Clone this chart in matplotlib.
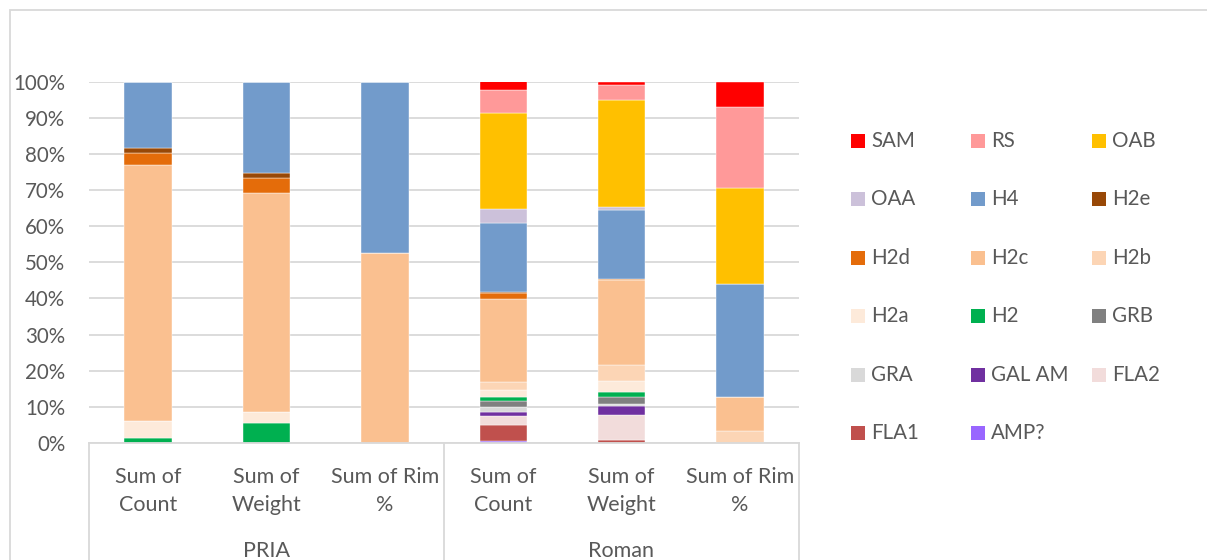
import numpy as np
import matplotlib
matplotlib.use("Agg")
from matplotlib import pyplot as plt
from matplotlib.patches import Rectangle
from matplotlib.ticker import PercentFormatter
import matplotlib.transforms as mtransforms

plt.rcParams['font.family'] = ['Lato', 'DejaVu Sans']

# categories (two levels)
groups = ['PRIA', 'Roman']
measures = ['Sum of\nCount', 'Sum of\nWeight', 'Sum of Rim\n%']

# percentages per type: PRIA Count, Weight, Rim %, Roman Count, Weight, Rim %
amp = [0, 0, 0, 0.5, 0, 0]
fla1 = [0, 0, 0, 4.6, 0.9, 0]
fla2 = [0, 0, 0, 2.3, 6.9, 0]
gal_am = [0, 0, 0, 1.2, 2.4, 0]
gra = [0, 0, 0, 1.3, 0.5, 0]
grb = [0, 0, 0, 1.7, 2.0, 0]
h2 = [1.5, 5.4, 0, 1.1, 1.3, 0]
h2a = [4.6, 3.2, 0, 1.9, 3.2, 0]
h2b = [0, 0, 0, 2.3, 4.5, 3.2]
h2c = [70.9, 60.5, 52.6, 22.9, 23.3, 9.4]
h2d = [3.4, 4.2, 0, 1.8, 0.4, 0]
h2e = [1.2, 1.5, 0, 0.2, 0.1, 0]
h4 = [18.4, 25.2, 47.4, 19.2, 19.1, 31.4]
oaa = [0, 0, 0, 3.7, 0.6, 0]
oab = [0, 0, 0, 26.5, 29.8, 26.7]
rs = [0, 0, 0, 6.4, 4.2, 22.3]
sam = [0, 0, 0, 2.5, 0.7, 7.0]

# bottom to top stacking order
series = [
    ('AMP?', amp, '#9966FF'),
    ('FLA1', fla1, '#C0504D'),
    ('FLA2', fla2, '#F2DCDB'),
    ('GAL AM', gal_am, '#7030A0'),
    ('GRA', gra, '#D9D9D9'),
    ('GRB', grb, '#808080'),
    ('H2', h2, '#00B050'),
    ('H2a', h2a, '#FDEADA'),
    ('H2b', h2b, '#FCD5B5'),
    ('H2c', h2c, '#FAC090'),
    ('H2d', h2d, '#E46C0A'),
    ('H2e', h2e, '#984807'),
    ('H4', h4, '#729BCB'),
    ('OAA', oaa, '#CCC1DA'),
    ('OAB', oab, '#FFC000'),
    ('RS', rs, '#FF9999'),
    ('SAM', sam, '#FF0000'),
]

txt = '#595959'
grid_c = '#D9D9D9'
fs = 14.8
fs_cat = 15.5

W, H = 1207, 560
fig = plt.figure(figsize=(W / 100, H / 100), dpi=100)
ax = fig.add_axes([89 / W, 1 - 443 / H, 710 / W, 361.3 / H])

x = np.arange(len(groups) * len(measures))
bottom = np.zeros(len(x))
for name, vals, col in series:
    v = np.array(vals, dtype=float)
    ax.bar(x, v, width=0.4, bottom=bottom, color=col, edgecolor='white',
           linewidth=0.3)
    bottom += v

ax.set_xlim(-0.5, len(x) - 0.5)
ax.set_ylim(0, 100)
ax.set_yticks(np.arange(0, 101, 10))
ax.yaxis.set_major_formatter(PercentFormatter(100, decimals=0))
ax.grid(axis='y', color=grid_c, linewidth=1.3)
ax.set_axisbelow(True)
for s in ['top', 'right', 'left']:
    ax.spines[s].set_visible(False)
ax.spines['bottom'].set_color(grid_c)
ax.spines['bottom'].set_linewidth(1.3)

ax.tick_params(axis='y', length=0, pad=17, labelsize=fs, labelcolor=txt)
ax.set_xticks(x)
ax.set_xticklabels(measures * len(groups), linespacing=1.5)
ax.tick_params(axis='x', length=0, pad=17, labelsize=fs_cat, labelcolor=txt)

# group labels and separators of the category axis
trans = mtransforms.blended_transform_factory(ax.transData, ax.transAxes)
for i, g in enumerate(groups):
    ax.text(i * 3 + 1, -0.298, g, transform=trans, ha='center', va='center',
            fontsize=fs_cat, color=txt)
for xb in [-0.5, 2.5, 5.5]:
    ax.plot([xb, xb], [0, -0.5], transform=trans, color=grid_c,
            linewidth=1.3, clip_on=False)

# legend laid out in rows of three
legend_order = list(reversed(series))
col_x = [851, 971, 1092]
for k, (name, vals, col) in enumerate(legend_order):
    r, c = divmod(k, 3)
    yc = 140.7 + 58.5 * r
    fig.add_artist(Rectangle((col_x[c] / W, 1 - (yc + 7) / H), 14 / W, 14 / H,
                             transform=fig.transFigure, facecolor=col,
                             edgecolor='none'))
    fig.text((col_x[c] + 20) / W, 1 - yc / H, name, ha='left', va='center',
             fontsize=fs, color=txt)

# chart frame
fig.add_artist(Rectangle((9.5 / W, -0.1), 2, 1.1 - 9.5 / H,
                         transform=fig.transFigure, facecolor='none',
                         edgecolor=grid_c, linewidth=1.3))

fig.savefig('out.png', dpi=100)
